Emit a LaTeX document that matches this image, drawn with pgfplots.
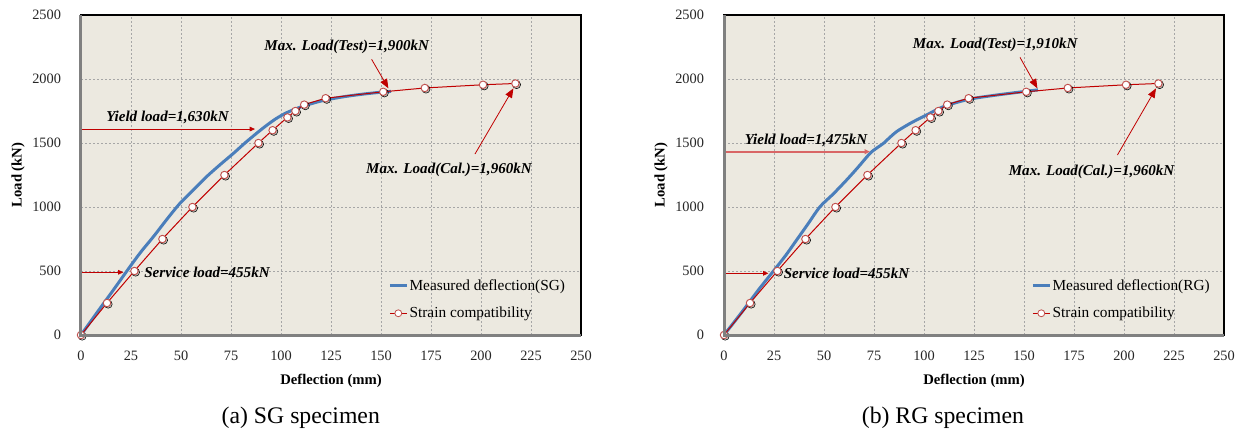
\documentclass[border=0pt]{standalone}
\usepackage{fontspec}
\setmainfont{Liberation Serif}
\usepackage{pgfplots}
\usepackage{pgfplotstable}
\pgfplotsset{compat=1.18}
\usetikzlibrary{arrows.meta}

\definecolor{bg}{HTML}{ECE9E0}
\definecolor{blueline}{HTML}{4A7EBB}
\definecolor{redline}{HTML}{C00000}
\definecolor{mkred}{HTML}{C0504D}
\definecolor{gridgray}{HTML}{A6A6A6}
\definecolor{axgray}{HTML}{808080}

\pgfplotstableread{
x y
0 0
13 250
26.7 500
40.7 750
55.7 1000
71.7 1250
88.7 1500
95.8 1600
103.2 1700
107.2 1750
111.6 1800
122.3 1850
151.1 1900
171.9 1930
201 1955
217.2 1965
}\strain

\pgfplotstableread{
x y
0 0
8 175
16.2 352
24.5 534
30 650
36.2 768
43 905
49.5 1029
56 1130
62.8 1237
69.5 1330
76.2 1419
82 1500
87.8 1576
93 1640
97.8 1693
103 1738
110 1782
120 1828
130 1858
140 1880
150 1897
155 1903
}\measSG

\pgfplotstableread{
x y
0 0
8.5 170
17.2 352
25.5 515
31 625
36.3 742
42 868
48 1002
54.5 1100
61.3 1211
67 1310
73 1419
76.5 1462
79.7 1497
83 1545
86.3 1589
90.5 1630
94.7 1667
101.3 1719
109.7 1784
122 1840
135 1872
150 1902
157 1915
}\measRG

\tikzset{
  annot/.style={font=\fontsize{11.3}{13}\selectfont\bfseries\itshape, inner sep=0pt},
  bigarrow/.style={redline, line width=0.6pt, -{Triangle[length=7pt,width=5.5pt]}},
  smallarrow/.style={redline, line width=0.6pt, -{Triangle[length=4pt,width=3.5pt]}},
}

\pgfplotsset{myaxis/.style={
  scale only axis, width=375pt, height=240pt,
  xmin=0,xmax=250,ymin=0,ymax=2500,
  xtick={0,25,...,250}, ytick={0,500,...,2500},
  grid=major,
  major grid style={draw=gridgray, line width=0.5pt, dash pattern=on 1.5pt off 1.5pt},
  axis background/.style={fill=bg},
  axis line style={black, line width=1pt},
  major tick length=0pt,
  tick style={draw=none},
  /pgf/number format/assume math mode=true,
  /pgf/number format/1000 sep={},
  ticklabel style={font=\fontsize{10.75}{12}\selectfont, text=black!85},
  xticklabel style={yshift=-8.5pt},
  yticklabel style={xshift=-11.5pt},
  xlabel={Deflection (mm)}, ylabel={Load (kN)},
  label style={font=\fontsize{11}{13}\selectfont\bfseries},
  xlabel style={at={(axis description cs:0.5,-0.144)}, anchor=center},
  ylabel style={at={(axis description cs:-0.126,0.5)}, anchor=center},
  legend cell align=left,
  legend style={draw=none, fill=none, font=\fontsize{11.5}{13}\selectfont,
    at={(axis cs:153.5,277)}, anchor=west, row sep=9pt, inner sep=0pt,
    nodes={inner sep=1pt}},
  meas/.style={blueline, line width=2.25pt, smooth, no markers,
    legend image code/.code={\draw[blueline,line width=2.25pt](0pt,0pt)--(12.75pt,0pt);}},
  shad/.style={only marks, mark=*, mark size=3pt, forget plot,
    mark options={draw=none, fill=black, fill opacity=0.18, xshift=0.9pt, yshift=-0.9pt}},
  strn/.style={redline, line width=0.75pt, mark=*, mark size=2.8pt,
    mark options={draw=mkred, fill=white, line width=0.7pt},
    legend image code/.code={\draw[redline,line width=0.75pt](0pt,0pt)--(12.75pt,0pt);
      \draw[mkred,fill=white,line width=0.6pt](6.4pt,0pt) circle (2.6pt);}},
  after end axis/.append code={
    \draw[axgray, line width=2.25pt] (rel axis cs:0,1) -- (rel axis cs:0,0) -- (rel axis cs:1,0);
  },
}}

\begin{document}
\begin{tikzpicture}
\path[use as bounding box] (0,0) rectangle (931.5pt,324.75pt);

\begin{axis}[myaxis, at={(60.75pt,73.5pt)}, anchor=south west]
\addplot[meas] table[x=x,y=y] {\measSG};
\addlegendentry{Measured deflection(SG)}
\addplot[shad] table[x=x,y=y] {\strain};
\addplot[strn] table[x=x,y=y] {\strain};
\addlegendentry{Strain compatibility}
\node[annot] at (axis cs:132.85,2250) {Max. Load(Test)=1,900kN};
\draw[bigarrow] (axis cs:145.3,2154) -- (axis cs:153.7,1927);
\node[annot] at (axis cs:184,1289) {Max. Load(Cal.)=1,960kN};
\draw[bigarrow] (axis cs:197,1414) -- (axis cs:216.2,1927);
\node[annot] at (axis cs:43.25,1701) {Yield load=1,630kN};
\draw[smallarrow] (axis cs:0,1609) -- (axis cs:87,1609);
\node[annot] at (axis cs:63,487) {Service load=455kN};
\draw[smallarrow] (axis cs:0,490) -- (axis cs:21.2,490);
\end{axis}

\begin{axis}[myaxis, at={(543pt,73.5pt)}, anchor=south west]
\addplot[meas] table[x=x,y=y] {\measRG};
\addlegendentry{Measured deflection(RG)}
\addplot[shad] table[x=x,y=y] {\strain};
\addplot[strn] table[x=x,y=y] {\strain};
\addlegendentry{Strain compatibility}
\node[annot] at (axis cs:135.6,2266) {Max. Load(Test)=1,910kN};
\draw[bigarrow] (axis cs:148,2169) -- (axis cs:156.7,1927);
\node[annot] at (axis cs:183.8,1276) {Max. Load(Cal.)=1,960kN};
\draw[bigarrow] (axis cs:196.7,1406) -- (axis cs:216,1927);
\node[annot] at (axis cs:41,1523) {Yield load=1,475kN};
\draw[redline!60, line width=1.2pt, -{Triangle[length=4pt,width=3.5pt]}] (axis cs:0,1432) -- (axis cs:73,1432);
\node[annot] at (axis cs:61.25,482) {Service load=455kN};
\draw[smallarrow] (axis cs:0,482) -- (axis cs:22.2,482);
\end{axis}

\node[font=\fontsize{17.8}{20}\selectfont] at (225.6pt,11.25pt) {(a) SG specimen};
\node[font=\fontsize{17.8}{20}\selectfont] at (707.2pt,11.25pt) {(b) RG specimen};
\end{tikzpicture}
\end{document}
